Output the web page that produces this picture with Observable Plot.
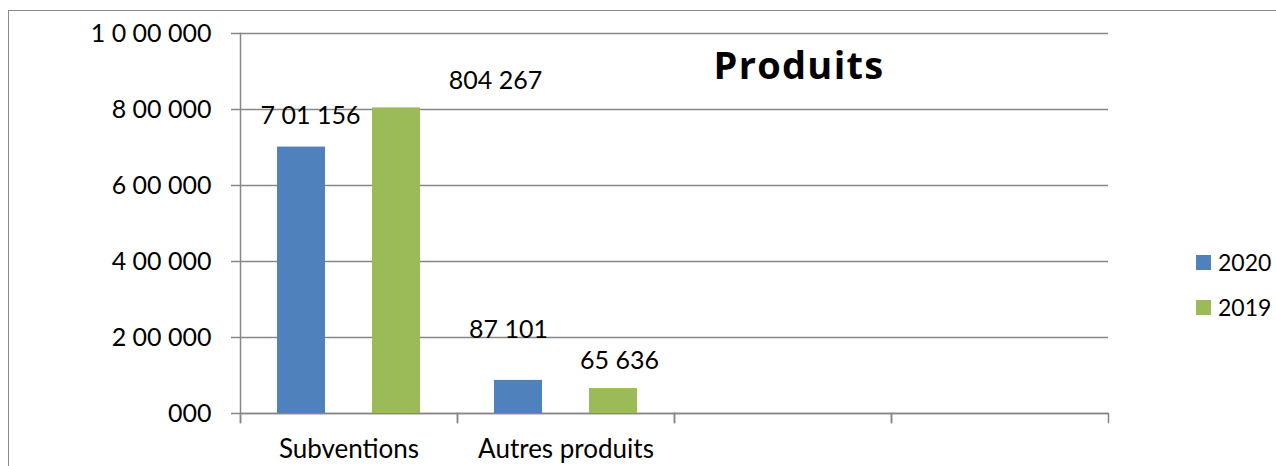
<!DOCTYPE html>
<html><head><meta charset="utf-8">
<script src="https://cdn.jsdelivr.net/npm/d3@7"></script>
<script src="https://cdn.jsdelivr.net/npm/@observablehq/plot@0.6"></script>
<style>
body{margin:0;background:#fff;}
#wrap{position:relative;width:1276px;height:466px;overflow:hidden;font-family:Lato, sans-serif;color:#000;}
#border{position:absolute;left:8px;top:10px;width:1300px;height:500px;border-top:1px solid #8a8a8a;border-left:1px solid #8a8a8a;pointer-events:none;}
#chart{position:absolute;left:0;top:0;}
#title{position:absolute;left:799px;top:45px;transform:translateX(-50%);font-family:"Open Sans",sans-serif;font-weight:bold;font-size:38px;letter-spacing:1.3px;line-height:1;white-space:nowrap;}
.leg{position:absolute;left:1196px;font-size:23px;line-height:1;white-space:nowrap;display:flex;align-items:center;}
.sw{width:15px;height:15px;margin-right:7px;}
</style></head>
<body>
<div id="wrap">
  <div id="chart"></div>
  <div id="border"></div>
  <div id="title"></div>
  <div id="legend"></div>
</div>
<script>
const chartTitle = "Produits";
const categories = ["Subventions", "Autres produits", "", ""];
const series = ["2020", "2019"];
const values2020 = [701156, 87101];
const values2019 = [804267, 65636];
const labels2020 = ["7 01 156", "87 101"];
const labels2019 = ["804 267", "65 636"];
const yTicks = [0, 200000, 400000, 600000, 800000, 1000000];
const yTickLabels = ["000", "2 00 000", "4 00 000", "6 00 000", "8 00 000", "1 0 00 000"];
const colors = ["#4F81BD", "#9BBB59"];

// label offsets (px), as moved by hand in the original
const labelNudge = {"2020": [[9, -31], [-10, -50]], "2019": [[99, -27], [6, -28]]};

const rows = [];
values2020.forEach((v, i) => rows.push({cat: i, series: "2020", value: v, label: labels2020[i], k: i}));
values2019.forEach((v, i) => rows.push({cat: i, series: "2019", value: v, label: labels2019[i], k: i}));
const catIdx = d3.range(categories.length);

const grid = "#878787";
const W = 1276, H = 466, mT = 33, mB = 53, mL = 240, mR = 168;
const plotH = H - mT - mB;

const textMarks = rows.map(d => Plot.text([d], {
  fx: "cat", x: "series", y: "value", text: "label",
  dx: labelNudge[d.series][d.k][0], dy: labelNudge[d.series][d.k][1],
  fontSize: 25, fill: "#000"
}));

const chart = Plot.plot({
  width: W, height: H, marginTop: mT, marginBottom: mB, marginLeft: mL, marginRight: mR,
  style: {fontFamily: "Lato, sans-serif", fontSize: "24px", color: "#000", background: "transparent"},
  fx: {domain: catIdx, padding: 0, label: null, axis: null},
  x: {domain: series, paddingInner: 0.5, paddingOuter: 0.385, axis: null},
  y: {domain: [0, 1000000], axis: null, label: null},
  color: {domain: series, range: colors},
  marks: [
    Plot.gridY(yTicks, {stroke: grid, strokeOpacity: 1, strokeWidth: 1.5}),
    Plot.ruleY(catIdx, {fx: d => d, y: () => 0, stroke: grid, strokeWidth: 1.5}),
    Plot.frame({anchor: "left", insetTop: plotH, insetBottom: -9, stroke: grid, strokeWidth: 1.5}),
    Plot.frame({anchor: "right", insetTop: plotH, insetBottom: -9, stroke: grid, strokeWidth: 1.5}),
    Plot.frame({anchor: "left", insetBottom: -9, stroke: grid, strokeWidth: 1.5, fx: [0]}),
    Plot.axisY(yTicks, {tickSize: 9, tickPadding: 20, stroke: grid, strokeWidth: 1.5, label: null,
      tickFormat: d => yTickLabels[yTicks.indexOf(d)], fontSize: 25, fill: "#000"}),
    Plot.axisFx({anchor: "bottom", tickSize: 0, tickPadding: 26, label: null,
      tickFormat: i => categories[i], fontSize: 26, fill: "#000"}),
    Plot.barY(rows, {fx: "cat", x: "series", y: "value", fill: "series"}),
    ...textMarks
  ]
});
document.getElementById("chart").appendChild(chart);
document.getElementById("title").textContent = chartTitle;

const legend = document.getElementById("legend");
series.forEach((s, i) => {
  const item = document.createElement("div");
  item.className = "leg";
  item.style.top = (251 + i * 45) + "px";
  const sw = document.createElement("div");
  sw.className = "sw";
  sw.style.background = colors[i];
  item.appendChild(sw);
  item.appendChild(document.createTextNode(s));
  legend.appendChild(item);
});
</script>
</body></html>
